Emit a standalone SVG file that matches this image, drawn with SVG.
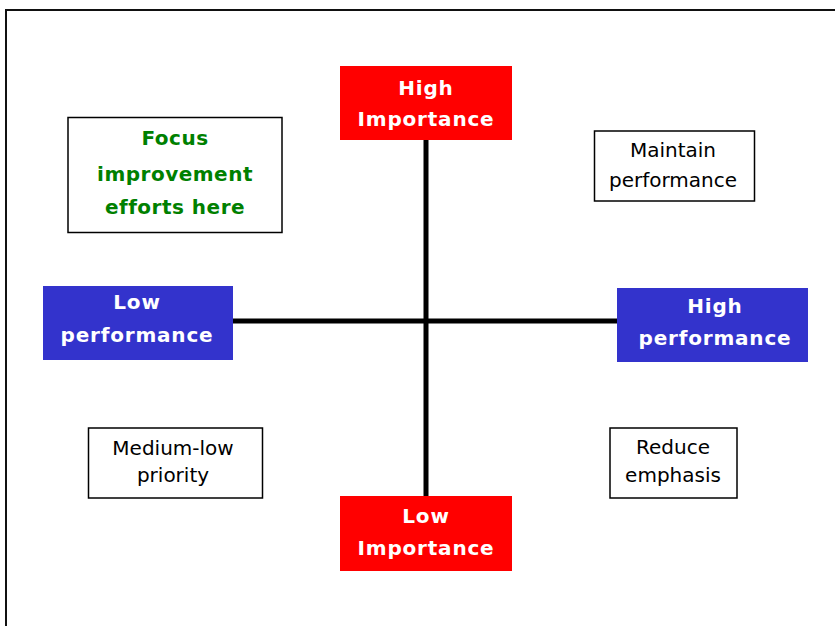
<svg xmlns="http://www.w3.org/2000/svg" width="835" height="626" viewBox="0 0 835 626">
<style>
.t{font-family:"DejaVu Sans",Verdana,sans-serif;font-size:20px;text-anchor:middle}
.b{font-weight:bold;fill:#ffffff;letter-spacing:0.8px}
.g{font-weight:bold;fill:#008000;letter-spacing:0.5px}
.n{fill:#000000}
.red{fill:#ff0000}
.blue{fill:#3333cc}
.wb{fill:#ffffff;stroke:#000000;stroke-width:1.5}
</style>
<rect x="0" y="0" width="835" height="626" fill="#ffffff"/>
<path d="M6,640 V10 H850" fill="none" stroke="#111111" stroke-width="2"/>
<g id="connectors">
<line x1="426" y1="140" x2="426" y2="496" stroke="#000" stroke-width="5"/>
<line x1="233" y1="321" x2="617" y2="321" stroke="#000" stroke-width="5"/>
</g>
<g id="high-importance">
<rect class="red" x="340" y="66" width="172" height="74"/>
<text class="t b" x="426" y="95">High</text>
<text class="t b" x="426" y="126">Importance</text>
</g>
<g id="low-importance">
<rect class="red" x="340" y="496" width="172" height="75"/>
<text class="t b" x="426" y="523">Low</text>
<text class="t b" x="426" y="555">Importance</text>
</g>
<g id="low-performance">
<rect class="blue" x="43" y="286" width="190" height="74"/>
<text class="t b" x="137" y="309">Low</text>
<text class="t b" x="137" y="342">performance</text>
</g>
<g id="high-performance">
<rect class="blue" x="617" y="288" width="191" height="74"/>
<text class="t b" x="715" y="313">High</text>
<text class="t b" x="715" y="345">performance</text>
</g>
<g id="focus">
<rect class="wb" x="68" y="117.5" width="214" height="115"/>
<text class="t g" x="175" y="145">Focus</text>
<text class="t g" x="175" y="181">improvement</text>
<text class="t g" x="175" y="214">efforts here</text>
</g>
<g id="maintain">
<rect class="wb" x="594.5" y="131" width="160" height="70"/>
<text class="t n" x="673" y="157">Maintain</text>
<text class="t n" x="673" y="187">performance</text>
</g>
<g id="medium-low">
<rect class="wb" x="88.5" y="428" width="174" height="70"/>
<text class="t n" x="173" y="455">Medium-low</text>
<text class="t n" x="173" y="482">priority</text>
</g>
<g id="reduce">
<rect class="wb" x="610" y="428" width="127" height="70"/>
<text class="t n" x="673" y="454">Reduce</text>
<text class="t n" x="673" y="482">emphasis</text>
</g>
</svg>
